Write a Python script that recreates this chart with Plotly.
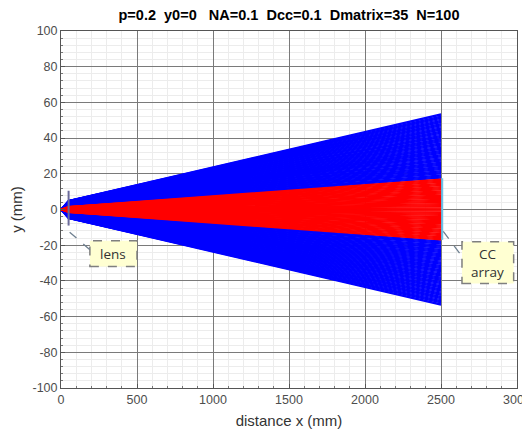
import numpy as np
import plotly.graph_objects as go

# --- simulation parameters (read from the title / picture) ---
title_text = "p=0.2&nbsp;&nbsp;y0=0&nbsp;&nbsp;&nbsp;NA=0.1&nbsp;&nbsp;Dcc=0.1&nbsp;&nbsp;Dmatrix=35&nbsp;&nbsp;N=100"
NA = 0.1
N_RAYS = 180
source_x = 0.0
lens_x = 50.0
array_x = 2500.0
end_half_height = 53.5      # half-height of the ray fan at the CC array
red_half_height = 17.2      # rays reaching inside this band are drawn red
lens_half = [10.5, -9.0]    # lens marker extent (top, bottom)
cc_span = [17.5, -17.0]     # CC array marker extent (top, bottom)

x_ticks = [0, 500, 1000, 1500, 2000, 2500, 3000]
y_ticks = [-100, -80, -60, -40, -20, 0, 20, 40, 60, 80, 100]

# ray heights: fan of angles from the source up to NA, re-imaged by the lens
angles = np.linspace(-NA, NA, N_RAYS)
lens_heights = lens_x * np.tan(angles)
end_heights = lens_heights * (end_half_height / (lens_x * np.tan(NA)))

blue_x, blue_y, red_x, red_y = [], [], [], []
for yl, ye in zip(lens_heights, end_heights):
    xs = [source_x, lens_x, array_x, None]
    ys = [0.0, yl, ye, None]
    if abs(ye) <= red_half_height:
        red_x += xs; red_y += ys
    else:
        blue_x += xs; blue_y += ys

fig = go.Figure()
fig.add_trace(go.Scatter(x=blue_x, y=blue_y, mode="lines",
                         line=dict(color="#0000ff", width=1.5), hoverinfo="skip"))
fig.add_trace(go.Scatter(x=red_x, y=red_y, mode="lines",
                         line=dict(color="#ff0000", width=1.5), hoverinfo="skip"))
# lens
fig.add_trace(go.Scatter(x=[lens_x, lens_x], y=lens_half, mode="lines",
                         line=dict(color="#6a6a9a", width=2), hoverinfo="skip"))
# CC array
fig.add_trace(go.Scatter(x=[array_x + 8, array_x + 8], y=cc_span, mode="lines",
                         line=dict(color="#6cc0e8", width=2), hoverinfo="skip"))

# callout boxes (dashed border) + leader lines
box_line = dict(color="#7f7f7f", width=1.5, dash="dash")
lead_line = dict(color="#6f8090", width=1.3, dash="dash")
fig.add_shape(type="rect", x0=190, x1=500, y0=-32, y1=-17.5,
              line=box_line, fillcolor="#ffffd2", layer="above")
fig.add_shape(type="line", x0=57, y0=-12.7, x1=190, y1=-22.5, line=lead_line)
fig.add_shape(type="rect", x0=2638, x1=2978, y0=-41.5, y1=-18.1,
              line=box_line, fillcolor="#ffffd2", layer="above")
fig.add_shape(type="line", x0=2515, y0=-12.3, x1=2638, y1=-26.2, line=lead_line)

fig.add_annotation(x=345, y=-24.8, text="lens", showarrow=False,
                   font=dict(family="Open Sans", size=13.5, color="#333333"))
fig.add_annotation(x=2808, y=-29.8, text="CC<br>array", showarrow=False,
                   font=dict(family="Open Sans", size=13.5, color="#333333"))

axis_common = dict(
    showline=True, mirror=True, linecolor="#555555", linewidth=1,
    showgrid=True, gridcolor="#7a7a7a", gridwidth=1,
    ticks="inside", ticklen=4, tickcolor="#555555",
    zeroline=False, automargin=False,
    tickfont=dict(family="Liberation Sans", size=12.5, color="#4d4d4d"),
)

fig.update_xaxes(range=[0, 3000], tickvals=x_ticks,
                 ticktext=[str(v) for v in x_ticks],
                 title=dict(text="distance x (mm)", standoff=9,
                            font=dict(family="Liberation Sans", size=15, color="#333333")),
                 minor=dict(dtick=100, showgrid=True, gridcolor="#ececec",
                            ticks="inside", ticklen=2, tickcolor="#777777"),
                 **axis_common)
fig.update_yaxes(range=[-100, 100], tickvals=y_ticks,
                 ticktext=[str(v) for v in y_ticks],
                 title=dict(text="y (mm)", standoff=13,
                            font=dict(family="Liberation Sans", size=15, color="#333333")),
                 minor=dict(dtick=4, showgrid=True, gridcolor="#ececec",
                            ticks="inside", ticklen=2, tickcolor="#777777"),
                 **axis_common)

fig.update_layout(
    width=530, height=434,
    margin=dict(l=53, r=21, t=23, b=54),
    paper_bgcolor="white", plot_bgcolor="white",
    showlegend=False,
    title=dict(text="<b>" + title_text + "</b>", x=0.5, xref="paper",
               y=1 - 7 / 434, yref="container", yanchor="middle",
               font=dict(family="Liberation Sans", size=14.5, color="#000000")),
)

fig.write_html("out.html")
